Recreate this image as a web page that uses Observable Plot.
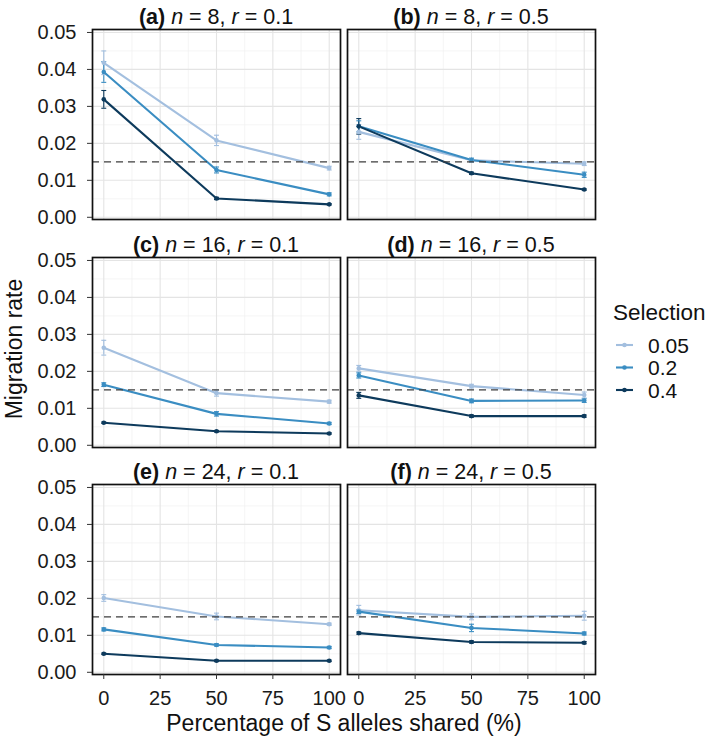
<!DOCTYPE html>
<html>
<head>
<meta charset="utf-8">
<script src="https://cdn.jsdelivr.net/npm/d3@7"></script>
<script src="https://cdn.jsdelivr.net/npm/@observablehq/plot@0.6"></script>
<style>
  html, body { margin: 0; padding: 0; background: #fff; }
  #chart { position: relative; width: 709px; height: 738px; overflow: hidden; background: #fff; }
  #chart svg { position: absolute; overflow: visible; }
</style>
</head>
<body>
<div id="chart"></div>
<script>
// ---------------- data ----------------
const shared = [0, 50, 100];                       // % S alleles shared
const selections = ["0.05", "0.2", "0.4"];
const colors = ["#a3bfdf", "#3a8dc2", "#0d3a5c"];
const panelLabels = ["(a)", "(b)", "(c)", "(d)", "(e)", "(f)"];
const nValues = ["8", "8", "16", "16", "24", "24"];
const rValues = ["0.1", "0.5", "0.1", "0.5", "0.1", "0.5"];
const xTicks = [0, 25, 50, 75, 100];
const xMinor = [12.5, 37.5, 62.5, 87.5];
const yTicks = [0, 0.01, 0.02, 0.03, 0.04, 0.05];
const yMinor = [0.005, 0.015, 0.025, 0.035, 0.045];
const threshold = [0.015];

// mean migration rate per selection (rows: 0.05, 0.2, 0.4) at 0, 50, 100 %
const rateA = [[0.0418, 0.0208, 0.0133], [0.0393, 0.0128, 0.0062], [0.0319, 0.0051, 0.0035]];
const rateB = [[0.0231, 0.0154, 0.0145], [0.0246, 0.0155, 0.0115], [0.0246, 0.0119, 0.0075]];
const rateC = [[0.0264, 0.0141, 0.0118], [0.0164, 0.0085, 0.0059], [0.0061, 0.0038, 0.0032]];
const rateD = [[0.0208, 0.0160, 0.0136], [0.0189, 0.0120, 0.0121], [0.0135, 0.0079, 0.0079]];
const rateE = [[0.0201, 0.0151, 0.0130], [0.0116, 0.0074, 0.0067], [0.0050, 0.0031, 0.0031]];
const rateF = [[0.0168, 0.0150, 0.0153], [0.0164, 0.0120, 0.0105], [0.0106, 0.0082, 0.0080]];
// error bar half-widths
const errA = [[0.0032, 0.0014, 0.0005], [0.0028, 0.0008, 0.0004], [0.0024, 0.0003, 0.0002]];
const errB = [[0.0020, 0.0005, 0.0005], [0.0015, 0.0005, 0.0007], [0.0021, 0.0003, 0.0002]];
const errC = [[0.0020, 0.0008, 0.0004], [0.0005, 0.0006, 0.0003], [0.0002, 0.0002, 0.0002]];
const errD = [[0.0008, 0.0005, 0.0008], [0.0007, 0.0005, 0.0005], [0.0008, 0.0003, 0.0003]];
const errE = [[0.0009, 0.0009, 0.0003], [0.0004, 0.0003, 0.0003], [0.0002, 0.0002, 0.0002]];
const errF = [[0.0013, 0.0008, 0.0012], [0.0005, 0.0010, 0.0004], [0.0003, 0.0003, 0.0003]];

const rates = [rateA, rateB, rateC, rateD, rateE, rateF];
const errs = [errA, errB, errC, errD, errE, errF];

// ---------------- layout ----------------
const FONT = "'Liberation Sans', Arial, Helvetica, sans-serif";
const colX = [92, 347];
const rowY = [29, 257, 484];
const PW = 248, PH = 190;
const chart = document.getElementById("chart");

rates.forEach((rate, p) => {
  const col = p % 2, row = Math.floor(p / 2);
  const left = col === 0, bottom = row === 2;
  const data = [];
  selections.forEach((s, si) => shared.forEach((x, i) => {
    data.push({x, y: rate[si][i], e: errs[p][si][i], sel: s});
  }));
  const mL = left ? colX[0] : 0;
  const mB = bottom ? 60 : 0;
  const marks = [
    Plot.ruleX(xMinor, {stroke: "#f1f1f1", strokeWidth: 0.7}),
    Plot.ruleY(yMinor, {stroke: "#f1f1f1", strokeWidth: 0.7}),
    Plot.ruleX(xTicks, {stroke: "#e4e4e4", strokeWidth: 1.1}),
    Plot.ruleY(yTicks, {stroke: "#e4e4e4", strokeWidth: 1.1}),
    Plot.ruleX(data, {x: "x", y1: d => d.y - d.e, y2: d => d.y + d.e, stroke: "sel", strokeWidth: 1.1}),
    Plot.link(data, {x1: d => d.x - 1.1, x2: d => d.x + 1.1, y1: d => d.y + d.e, y2: d => d.y + d.e, stroke: "sel", strokeWidth: 1.1}),
    Plot.link(data, {x1: d => d.x - 1.1, x2: d => d.x + 1.1, y1: d => d.y - d.e, y2: d => d.y - d.e, stroke: "sel", strokeWidth: 1.1}),
    Plot.line(data, {x: "x", y: "y", stroke: "sel", z: "sel", strokeWidth: 2.1}),
    Plot.dot(data, {x: "x", y: "y", fill: "sel", r: 2.3}),
    Plot.ruleY(threshold, {stroke: "#3f3f3f", strokeWidth: 1.4, strokeDasharray: "7,5"}),
    Plot.frame({stroke: "#111", strokeWidth: 1.7})
  ];
  if (left) marks.push(Plot.axisY(yTicks, {tickFormat: d => d.toFixed(2), fontSize: 20, tickSize: 5, tickPadding: 11, stroke: "#333", fill: "#1a1a1a", label: null}));
  if (bottom) marks.push(Plot.axisX(xTicks, {fontSize: 20, tickSize: 5, tickPadding: 11, stroke: "#333", fill: "#1a1a1a", label: null}));
  const svg = Plot.plot({
    width: mL + PW,
    height: PH + mB,
    marginLeft: mL, marginRight: 0, marginTop: 0, marginBottom: mB,
    style: {fontFamily: FONT, background: "transparent", overflow: "visible"},
    x: {domain: [-5, 105], axis: bottom ? undefined : null},
    y: {domain: [-0.0006, 0.0508], axis: left ? undefined : null},
    color: {domain: selections, range: colors},
    marks
  });
  svg.style.left = (left ? 0 : colX[1]) + "px";
  svg.style.top = rowY[row] + "px";
  chart.appendChild(svg);
});

// ---------------- overlay text: titles, axis titles, legend ----------------
const ov = d3.select(chart).append("svg")
  .attr("width", 709).attr("height", 738)
  .style("left", "0px").style("top", "0px").style("pointer-events", "none")
  .style("font-family", FONT);

panelLabels.forEach((lab, p) => {
  const col = p % 2, row = Math.floor(p / 2);
  const t = ov.append("text")
    .attr("x", colX[col] + PW / 2).attr("y", rowY[row] - 5)
    .attr("text-anchor", "middle").attr("font-size", 21.5).attr("fill", "#111");
  t.append("tspan").attr("font-weight", "bold").text(lab + " ");
  t.append("tspan").attr("font-style", "italic").text("n");
  t.append("tspan").text(" = " + nValues[p] + ", ");
  t.append("tspan").attr("font-style", "italic").text("r");
  t.append("tspan").text(" = " + rValues[p]);
});

ov.append("text")
  .attr("transform", "translate(22,349) rotate(-90)")
  .attr("text-anchor", "middle").attr("font-size", 23).attr("fill", "#111")
  .text("Migration rate");

ov.append("text")
  .attr("x", 344).attr("y", 731)
  .attr("text-anchor", "middle").attr("font-size", 23).attr("fill", "#111")
  .text("Percentage of S alleles shared (%)");

ov.append("text")
  .attr("x", 613).attr("y", 320)
  .attr("font-size", 22.5).attr("fill", "#111")
  .text("Selection");

selections.forEach((s, i) => {
  const y = 345 + i * 22.5;
  ov.append("line").attr("x1", 616).attr("x2", 633).attr("y1", y).attr("y2", y)
    .attr("stroke", colors[i]).attr("stroke-width", 2.1);
  ov.append("circle").attr("cx", 624.5).attr("cy", y).attr("r", 2.3).attr("fill", colors[i]);
  ov.append("text").attr("x", 648).attr("y", y + 7.5)
    .attr("font-size", 21).attr("fill", "#111").text(s);
});
</script>
</body>
</html>
